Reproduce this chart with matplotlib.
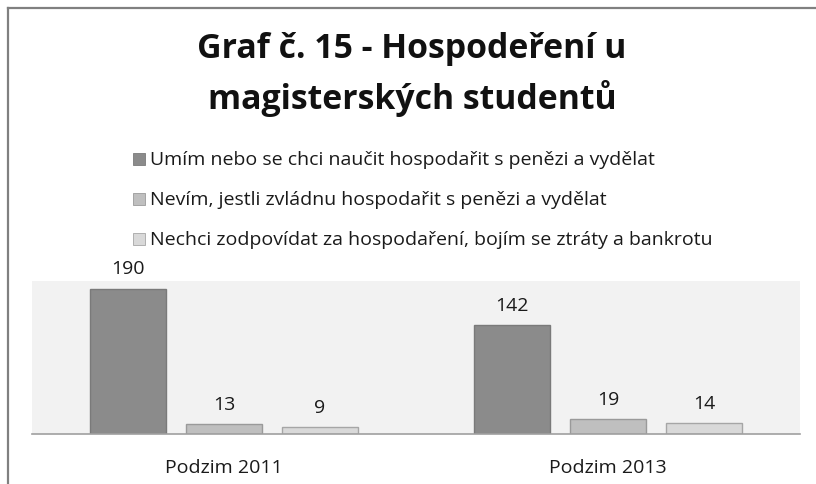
import matplotlib
matplotlib.use("Agg")
import matplotlib.pyplot as plt
from matplotlib.lines import Line2D
from matplotlib.patches import Rectangle
import numpy as np

plt.rcParams['font.family'] = ['Open Sans', 'DejaVu Sans']

# data
categories = ['Podzim 2011', 'Podzim 2013']
series_names = [
    'Umím nebo se chci naučit hospodařit s penězi a vydělat',
    'Nevím, jestli zvládnu hospodařit s penězi a vydělat',
    'Nechci zodpovídat za hospodaření, bojím se ztráty a bankrotu',
]
values = [
    [190, 142],
    [13, 19],
    [9, 14],
]
colors = ['#8b8b8b', '#bfbfbf', '#d9d9d9']
edges = ['#7a7a7a', '#9a9a9a', '#a6a6a6']

W, H = 816, 485
fig = plt.figure(figsize=(W / 100, H / 100), dpi=100)
fig.patch.set_facecolor('white')

# outer frame (cropped chart border)
fig.add_artist(Line2D([8 / W, 8 / W], [0, 1 - 9 / H], color='#808080', lw=1.6))
fig.add_artist(Line2D([8 / W, 1], [1 - 9 / H, 1 - 9 / H], color='#808080', lw=1.6))

# title
fig.text(412 / W, 1 - 58 / H, 'Graf č. 15 - Hospodeření u', ha='center', va='baseline',
         fontsize=24.4, fontweight='bold', color='#111111')
fig.text(412 / W, 1 - 109 / H, 'magisterských studentů', ha='center', va='baseline',
         fontsize=24.4, fontweight='bold', color='#111111')

# legend
for i, name in enumerate(series_names):
    y = 1 - (160 + 40 * i) / H
    fig.add_artist(Rectangle((133 / W, y - 6 / H), 12 / W, 12 / H, facecolor=colors[i],
                             edgecolor=edges[i], lw=0.6, transform=fig.transFigure))
    fig.text(150 / W, y, name, ha='left', va='center', fontsize=14, color='#1a1a1a')

# plot area
ax = fig.add_axes([32 / W, 50 / H, 768 / W, 153 / H])
ax.set_facecolor('#f2f2f2')
x = np.arange(len(categories))
offsets = [-0.25, 0, 0.25]
for i in range(len(series_names)):
    bars = ax.bar(x + offsets[i], values[i], width=0.2, color=colors[i],
                  edgecolor=edges[i], linewidth=1, zorder=2)
    for b, v in zip(bars, values[i]):
        ax.annotate(str(v), (b.get_x() + b.get_width() / 2, v), xytext=(0, 11),
                    textcoords='offset points', ha='center', va='baseline',
                    fontsize=14, color='#1a1a1a', annotation_clip=False)

ax.set_xlim(-0.5, 1.5)
ax.set_ylim(0, 200)
ax.set_yticks([])
ax.set_xticks(x)
ax.set_xticklabels(categories, fontsize=14, color='#1a1a1a')
ax.tick_params(axis='x', length=0, pad=17)
for s in ['top', 'left', 'right']:
    ax.spines[s].set_visible(False)
ax.spines['bottom'].set_color('#a0a0a0')
ax.spines['bottom'].set_linewidth(1.2)

fig.savefig('out.png', dpi=100)
